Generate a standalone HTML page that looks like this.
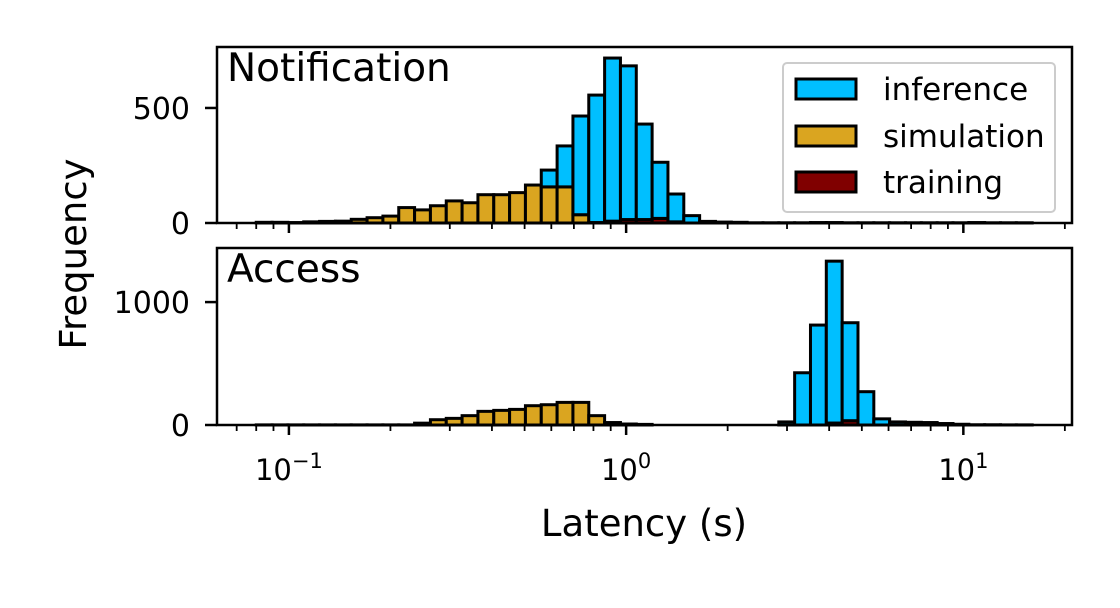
<!DOCTYPE html>
<html><head><meta charset="utf-8"><style>
body{margin:0;background:#fff;}
svg{display:block;font-family:"DejaVu Sans","Liberation Sans",sans-serif;}
</style></head><body>
<svg id="chart" width="1120" height="608" viewBox="0 0 1120 608" xmlns="http://www.w3.org/2000/svg">
<rect width="1120" height="608" fill="#fff"/>
<g id="top"></g><g id="bot"></g>
<text x="227" y="81" font-size="39">Notification</text>
<text x="227" y="282" font-size="39">Access</text>
<text transform="translate(86,254) rotate(-90)" text-anchor="middle" font-size="37">Frequency</text>
<text x="644" y="536" text-anchor="middle" font-size="37">Latency (s)</text>
<g>
<rect x="783" y="63" width="272" height="149" rx="4" fill="#fff" stroke="#ccc" stroke-width="2"/>
<rect x="796" y="79" width="60" height="20" fill="#00BFFF" stroke="#000" stroke-width="3"/>
<text x="883" y="100" font-size="31">inference</text>
<rect x="796" y="126" width="60" height="20" fill="#DAA520" stroke="#000" stroke-width="3"/>
<text x="883" y="147" font-size="31">simulation</text>
<rect x="796" y="172" width="60" height="20" fill="#800000" stroke="#000" stroke-width="3"/>
<text x="883" y="193" font-size="31">training</text>
</g>
</svg>
<script>
const binLo = 0.08, binHi = 16, nBins = 49;
const topSimulation = [3,3,2,5,7,8,16,23,30,67,57,75,96,88,123,123,132,165,157,157,36,0,0,0,0,0,0,0,0,0,0,0,0,0,0,0,0,0,0,0,0,0,0,0,0,0,0,0,0];
const topTraining   = [0,0,0,0,0,0,0,0,0,0,0,0,0,0,0,0,0,0,0,0,0,2,8,15,15,20,5,0,0,0,0,0,0,0,0,0,0,0,0,0,0,0,0,0,0,0,0,0,0];
const topInference  = [0,0,0,0,0,0,0,0,0,0,0,0,0,0,0,0,0,0,73,178,429,554,709,668,415,244,121,32,7,4,3,1,1,1,1,2,2,1,1,1,1,1,1,1,1,2,1,1,1];
const botSimulation = [1,1,1,1,1,1,1,1,1,1,15,43,54,76,111,119,127,157,165,184,184,76,20,8,5,0,0,0,0,0,0,0,0,0,0,0,0,0,0,0,0,0,0,0,0,0,0,0,0];
const botTraining   = [0,0,0,0,0,0,0,0,0,0,0,0,0,0,0,0,0,0,0,0,0,0,0,0,0,0,0,0,0,0,0,0,0,0,0,0,16,35,0,0,0,0,0,0,0,0,0,0,0];
const botInference  = [0,0,0,0,0,0,0,0,0,0,0,0,0,0,0,0,0,0,0,0,0,0,0,0,0,0,0,0,0,0,0,0,0,25,425,813,1317,797,271,50,25,22,20,12,6,2,2,1,1];
const topTicks = [0,500];
const botTicks = [0,1000];
const xTicks = [-1,0,1];

const NS="http://www.w3.org/2000/svg";
const xL=217,xR=1072;
const logMin=Math.log10(0.0612),logMax=Math.log10(21.0);
function xScale(v){return xL+(Math.log10(v)-logMin)/(logMax-logMin)*(xR-xL);}
function mk(tag,attrs,parent){const e=document.createElementNS(NS,tag);for(const k in attrs)e.setAttribute(k,attrs[k]);parent.appendChild(e);return e;}
const edges=[];for(let i=0;i<=nBins;i++)edges.push(binLo*Math.pow(binHi/binLo,i/nBins));

function panel(g,y0,y1,ymax,series,ticks,name){
  const yS=v=>y0-v/ymax*(y0-y1);
  const base=new Array(nBins).fill(0);
  series.forEach(s=>{
    for(let i=0;i<nBins;i++){
      const a=xScale(edges[i]),b=xScale(edges[i+1]);
      const lo=yS(base[i]),hi=yS(base[i]+s.vals[i]);
      const r=mk('rect',{x:a,y:hi,width:b-a,height:Math.max(0,lo-hi),fill:s.color,stroke:'#000','stroke-width':3},g);
      
      
      base[i]+=s.vals[i];
    }
  });
  const fr=mk('rect',{x:xL,y:y1,width:xR-xL,height:y0-y1,fill:'none',stroke:'#000','stroke-width':2.5},g);
  
  
  ticks.forEach(t=>{
    const y=yS(t);
    mk('line',{x1:xL-12,x2:xL,y1:y,y2:y,stroke:'#000','stroke-width':2.5},g);
    const tx=mk('text',{x:xL-27,y:y+11,'text-anchor':'end','font-size':30},g);
    tx.textContent=t;
    
    
  });
  for(let d=-2;d<=1;d++){for(let m=1;m<=9;m++){
    const v=m*Math.pow(10,d);const x=xScale(v);
    if(x<xL||x>xR)continue;
    mk('line',{x1:x,x2:x,y1:y0,y2:y0+(m===1?10:6),stroke:'#000','stroke-width':m===1?2.5:1.8},g);
  }}
}
const colors={inference:'#00BFFF',simulation:'#DAA520',training:'#800000'};
panel(document.getElementById('top'),223,47,765,[
  {key:'simulation',vals:topSimulation,color:colors.simulation},
  {key:'training',vals:topTraining,color:colors.training},
  {key:'inference',vals:topInference,color:colors.inference}],topTicks,'notification');
panel(document.getElementById('bot'),425,248,1440,[
  {key:'simulation',vals:botSimulation,color:colors.simulation},
  {key:'training',vals:botTraining,color:colors.training},
  {key:'inference',vals:botInference,color:colors.inference}],botTicks,'access');
const bg=document.getElementById('bot');
xTicks.forEach(p=>{
  const x=xScale(Math.pow(10,p));
  const t=mk('text',{x:x,y:480,'text-anchor':'middle','font-size':29},bg);
  
  
  t.appendChild(document.createTextNode('10'));
  const s=mk('tspan',{dy:-12,'font-size':21},t);s.textContent=(p<0?'\u2212':'')+Math.abs(p);
});
</script>
</body></html>
